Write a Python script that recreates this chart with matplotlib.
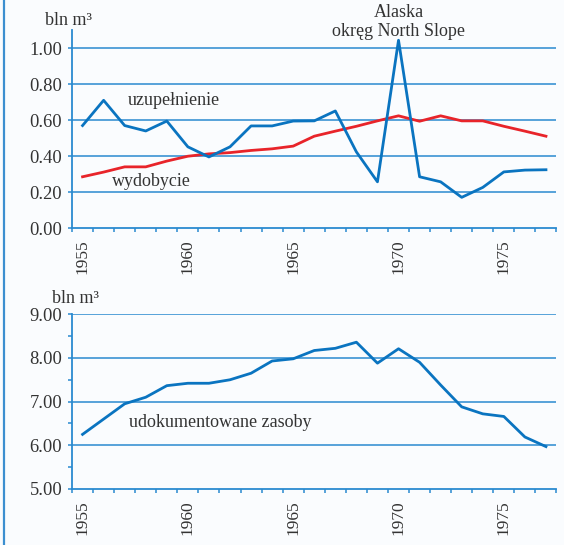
import numpy as np
import matplotlib
matplotlib.use("Agg")
import matplotlib.pyplot as plt
from matplotlib.lines import Line2D

years = list(range(1955, 1978))

# uzupelnienie (blue) and wydobycie (red), bln m3
uzupelnienie = [0.57, 0.71, 0.57, 0.54, 0.595, 0.452, 0.396, 0.452, 0.568, 0.568,
                0.595, 0.596, 0.651, 0.424, 0.258, 1.043, 0.286, 0.258, 0.172, 0.227,
                0.313, 0.323, 0.325]
wydobycie = [0.286, 0.312, 0.341, 0.341, 0.373, 0.40, 0.413, 0.42, 0.432, 0.441,
             0.456, 0.511, 0.539, 0.566, 0.596, 0.624, 0.594, 0.624, 0.596, 0.596,
             0.566, 0.539, 0.511]
# udokumentowane zasoby, bln m3
zasoby = [6.25, 6.60, 6.95, 7.10, 7.365, 7.42, 7.42, 7.50, 7.65, 7.93,
          7.98, 8.17, 8.22, 8.36, 7.88, 8.21, 7.90, 7.38, 6.88, 6.72,
          6.66, 6.19, 5.97]

label_years = [1955, 1960, 1965, 1970, 1975]
top_yticks = [0.0, 0.2, 0.4, 0.6, 0.8, 1.0]
bot_yticks = [5.0, 6.0, 7.0, 8.0, 9.0]

BLUE = '#0a74c0'
RED = '#e8242a'
GRID = '#2a8ad0'
TXT = '#333333'
BG = '#fafcfe'

plt.rcParams['font.family'] = ['Liberation Serif', 'DejaVu Serif']

fig = plt.figure(figsize=(5.64, 5.45), dpi=100, facecolor=BG)


def style_axes(ax, yticks, ylim, fmt):
    ax.set_facecolor(BG)
    ax.set_xlim(1954.5, 1977.5)
    ax.set_ylim(*ylim)
    for s in ['top', 'right']:
        ax.spines[s].set_visible(False)
    for s in ['left', 'bottom']:
        ax.spines[s].set_color(GRID)
        ax.spines[s].set_linewidth(1.3)
    ax.set_xticks(np.arange(1954.5, 1978, 1))
    ax.set_xticklabels([])
    ax.set_xticks(label_years, minor=True)
    ax.set_xticklabels([str(y) for y in label_years], minor=True, rotation=90,
                       fontsize=12.5, color=TXT, va='top')
    ax.tick_params(axis='x', which='major', length=3, width=1.1, color=GRID, direction='out')
    ax.tick_params(axis='x', which='minor', length=0, pad=8)
    ax.set_yticks(yticks)
    ax.set_yticklabels([fmt % v for v in yticks], fontsize=13.3, color=TXT)
    ax.tick_params(axis='y', which='major', length=3, width=1.1, color=GRID, pad=4)
    for v in yticks:
        if v > ylim[0]:
            ax.axhline(v, color=GRID, lw=1.1, zorder=1)


ax1 = fig.add_axes([0.1277, 0.581, 0.859, 0.364])
style_axes(ax1, top_yticks, (0, 1.10), '%.2f')
ax1.plot(years, wydobycie, color=RED, lw=2.0, zorder=3)
ax1.plot(years, uzupelnienie, color=BLUE, lw=2.0, zorder=4)
ax1.text(1957.15, 0.71, 'uzupełnienie', fontsize=13, color=TXT, va='center')
ax1.text(1956.4, 0.26, 'wydobycie', fontsize=13, color=TXT, va='center')
ax1.text(1970.0, 1.198, 'Alaska', fontsize=13, color=TXT,
         ha='center', va='center', clip_on=False)
ax1.text(1970.0, 1.092, 'okręg North Slope', fontsize=13, color=TXT,
         ha='center', va='center', clip_on=False)
fig.text(0.079, 0.962, 'bln m³', fontsize=13, color=TXT, va='center')

ax2 = fig.add_axes([0.1277, 0.1028, 0.859, 0.3206])
style_axes(ax2, bot_yticks, (5, 9), '%.2f')
ax2.set_yticks([5.5, 6.5, 7.5, 8.5], minor=True)
ax2.tick_params(axis='y', which='minor', length=3, width=1.1, color=GRID)
ax2.plot(years, zasoby, color=BLUE, lw=2.0, zorder=4)
ax2.text(1957.2, 6.52, 'udokumentowane zasoby', fontsize=13, color=TXT, va='center')
fig.text(0.092, 0.452, 'bln m³', fontsize=13, color=TXT, va='center')

fig.add_artist(Line2D([0.0075, 0.0075], [0, 1], color='#3c8fd0', lw=1.6,
                      transform=fig.transFigure))

fig.savefig('out.png', dpi=100, facecolor=BG)
